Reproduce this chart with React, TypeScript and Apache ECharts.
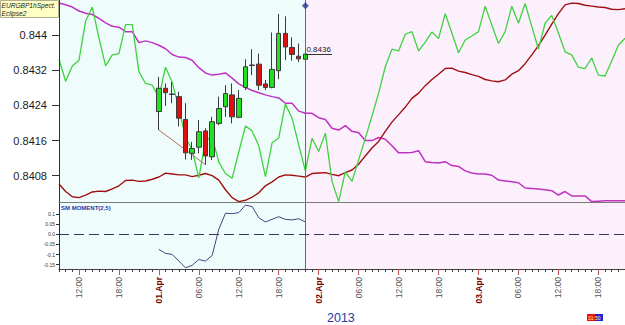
import React, { useEffect, useRef } from 'react';
import * as echarts from 'echarts';

const FONT = '"Liberation Sans", Arial, sans-serif';

// hourly categories: hour offset from 31.Mar 00:00 (9 = 31.Mar 09:00 ... 94 = 03.Apr 22:00)
const hours: number[] = Array.from({ length: 86 }, (_, i) => 9 + i);

const majorLabels: [number, string][] = [
  [12, '12:00'], [18, '18:00'], [24, '01.Apr'], [30, '06:00'], [36, '12:00'], [42, '18:00'],
  [48, '02.Apr'], [54, '06:00'], [60, '12:00'], [66, '18:00'], [72, '03.Apr'], [78, '06:00'],
  [84, '12:00'], [90, '18:00'],
];

const mainTicks = [0.8408, 0.8416, 0.8424, 0.8432, 0.844];
const momTicks = [-0.15, -0.1, -0.05, 0, 0.05, 0.1];

const magenta = [
  0.84473, 0.84469, 0.84464, 0.84455, 0.84450, 0.84447, 0.84438, 0.84428, 0.84420, 0.84418,
  0.84408, 0.84408, 0.84383, 0.84387, 0.84383, 0.84377, 0.84369, 0.84356, 0.84350, 0.84349,
  0.84343, 0.84326, 0.84314, 0.84309, 0.84311, 0.84314, 0.84302, 0.84289, 0.84281, 0.84274,
  0.84269, 0.84264, 0.84260, 0.84257, 0.84245, 0.84245, 0.84227, 0.84222, 0.84222, 0.84212,
  0.84208, 0.84188, 0.84184, 0.84194, 0.84181, 0.84178, 0.84160, 0.84160, 0.84167, 0.84163,
  0.84148, 0.84132, 0.84132, 0.84133, 0.84137, 0.84112, 0.84110, 0.84109, 0.84112, 0.84103,
  0.84101, 0.84091, 0.84086, 0.84084, 0.84084, 0.84081, 0.84070, 0.84068, 0.84066, 0.84064,
  0.84052, 0.84051, 0.84050, 0.84048, 0.84046, 0.84036, 0.84044, 0.84034, 0.84034, 0.84034,
  0.84021, 0.84022, 0.84023, 0.84023, 0.84023, 0.84023,
];

const green = [
  0.84345, 0.84295, 0.84330, 0.84343, 0.84432, 0.84464, 0.84393, 0.84330, 0.84355, 0.84358,
  0.84424, 0.84424, 0.84317, 0.84290, 0.84286, 0.84259, 0.84327, 0.84293, 0.84234, 0.84166,
  0.84139, 0.84075, 0.84161, 0.84168, 0.84111, 0.84085, 0.84074, 0.84134, 0.84193, 0.84182,
  0.84148, 0.84078, 0.84155, 0.84166, 0.84243, 0.84211, 0.84150, 0.84091, 0.84165, 0.84135,
  0.84177, 0.84067, 0.84021, 0.84089, 0.84067, 0.84116, 0.84165, 0.84216, 0.84268, 0.84328,
  0.84368, 0.84364, 0.84402, 0.84408, 0.84364, 0.84384, 0.84407, 0.84392, 0.84449, 0.84405,
  0.84360, 0.84389, 0.84398, 0.84408, 0.84466, 0.84423, 0.84381, 0.84408, 0.84466, 0.84427,
  0.84472, 0.84420, 0.84368, 0.84427, 0.84445, 0.84405, 0.84362, 0.84355, 0.84327, 0.84324,
  0.84348, 0.84309, 0.84307, 0.84341, 0.84377, 0.84393,
];

const darkRed = [
  0.84061, 0.84044, 0.84032, 0.84030, 0.84036, 0.84043, 0.84045, 0.84044, 0.84050, 0.84057,
  0.84069, 0.84070, 0.84067, 0.84068, 0.84072, 0.84077, 0.84086, 0.84084, 0.84082, 0.84082,
  0.84078, 0.84081, 0.84085, 0.84080, 0.84070, 0.84048, 0.84030, 0.84021, 0.84024, 0.84031,
  0.84041, 0.84057, 0.84066, 0.84077, 0.84082, 0.84081, 0.84079, 0.84077, 0.84085, 0.84086,
  0.84087, 0.84083, 0.84080, 0.84087, 0.84093, 0.84106, 0.84125, 0.84143, 0.84158, 0.84181,
  0.84202, 0.84219, 0.84236, 0.84256, 0.84268, 0.84285, 0.84299, 0.84311, 0.84324, 0.84325,
  0.84318, 0.84315, 0.84310, 0.84306, 0.84299, 0.84296, 0.84294, 0.84298, 0.84311, 0.84319,
  0.84335, 0.84355, 0.84376, 0.84400, 0.84425, 0.84449, 0.84469, 0.84473, 0.84472, 0.84468,
  0.84466, 0.84464, 0.84463, 0.84459, 0.84458, 0.84460,
];

// hourly candles 01.Apr 00:00 .. 01.Apr 22:00
const candleHours = [24, 25, 26, 27, 28, 29, 30, 31, 32, 33, 34, 35, 36, 37, 38, 39, 40, 41, 42, 43, 44, 45, 46];
const candleOpen = [0.84226, 0.84279, 0.84266, 0.84260, 0.84208, 0.84131, 0.84145, 0.84182, 0.84123, 0.84199, 0.84237, 0.84264, 0.84213, 0.84281, 0.84332, 0.84334, 0.84289, 0.84281, 0.84319, 0.84404, 0.84372, 0.84352, 0.84345];
const candleClose = [0.84279, 0.84269, 0.84265, 0.84211, 0.84132, 0.84142, 0.84180, 0.84125, 0.84203, 0.84233, 0.84267, 0.84214, 0.84256, 0.84328, 0.84331, 0.84286, 0.84281, 0.84322, 0.84404, 0.84373, 0.84356, 0.84346, 0.84357];
const candleLow = [0.84184, 0.84239, 0.84245, 0.84192, 0.84117, 0.84116, 0.84131, 0.84105, 0.84116, 0.84195, 0.84214, 0.84199, 0.84211, 0.84275, 0.84309, 0.84275, 0.84275, 0.84279, 0.84300, 0.84343, 0.84342, 0.84339, 0.84345];
const candleHigh = [0.84305, 0.84290, 0.84293, 0.84271, 0.84245, 0.84157, 0.84207, 0.84188, 0.84214, 0.84260, 0.84286, 0.84290, 0.84275, 0.84345, 0.84368, 0.84358, 0.84298, 0.84406, 0.84448, 0.84443, 0.84395, 0.84381, 0.84392];

const momentum = [-0.074, -0.094, -0.099, -0.132, -0.165, -0.153, -0.124, -0.132, -0.104, 0.025, 0.104, 0.102, 0.107, 0.144, 0.137, 0.082, 0.061, 0.074, 0.087, 0.074, 0.071, 0.077, 0.061];

const trendLine: [number, number][] = [[24, 0.84184], [31, 0.84105]];
const nowHour = 46;
const lastLineEndHour = 50;
const markerValue = 0.84467;

export default function App() {
  const ref = useRef<HTMLDivElement>(null);
  useEffect(() => {
    if (!ref.current) return;
    const chart = echarts.init(ref.current, null, { renderer: 'svg' });
    const cats = hours.map(String);
    const majorMap = new Map<number, string>(majorLabels);
    const isMajor = (i: number) => majorMap.has(hours[i]);
    const candleMap = new Map<number, number[]>();
    candleHours.forEach((h, i) => candleMap.set(h, [candleOpen[i], candleClose[i], candleLow[i], candleHigh[i]]));
    const candleData = hours.map((h) => candleMap.get(h) ?? '-');
    const lastClose = candleClose[candleClose.length - 1];

    const option: any = {
      animation: false,
      backgroundColor: '#ffffff',
      textStyle: { fontFamily: FONT },
      grid: [
        { left: 59, right: 0, top: 0, bottom: 122.5 },
        { left: 59, right: 0, top: 202.5, bottom: 56 },
      ],
      xAxis: [
        {
          gridIndex: 0, type: 'category', data: cats, boundaryGap: false, z: 6,
          axisLine: { onZero: false, lineStyle: { color: '#7a7a7a', width: 1 } },
          axisTick: { show: false }, axisLabel: { show: false }, splitLine: { show: false },
        },
        {
          gridIndex: 1, type: 'category', data: cats, boundaryGap: false, position: 'bottom', z: 6,
          axisLine: { onZero: false, lineStyle: { color: '#404040', width: 1 } },
          axisTick: { interval: 0, length: 3, lineStyle: { color: '#404040' } },
          axisLabel: { show: false }, splitLine: { show: false },
        },
        {
          gridIndex: 1, type: 'category', data: cats, boundaryGap: false, position: 'bottom', z: 6,
          axisLine: { show: false, onZero: false },
          axisTick: { interval: (i: number) => isMajor(i), length: 6, lineStyle: { color: '#c05050' } },
          axisLabel: {
            interval: (i: number) => isMajor(i), rotate: 90, margin: 8,
            formatter: (v: string) => {
              const lab = majorMap.get(Number(v));
              if (!lab) return '';
              return lab.indexOf('Apr') >= 0 ? `{d|${lab}}` : `{t|${lab}}`;
            },
            rich: {
              d: { color: '#7a0000', fontWeight: 'bold', fontSize: 8.5, fontFamily: FONT },
              t: { color: '#555555', fontSize: 8.5, fontFamily: FONT },
            },
          },
          splitLine: { show: false },
        },
      ],
      yAxis: [
        {
          gridIndex: 0, type: 'value', min: 0.84019, max: 0.8448, scale: true, z: 6,
          axisLine: { show: true, lineStyle: { color: '#303030' } },
          axisTick: { show: true, length: 7, customValues: mainTicks, lineStyle: { color: '#303030' } },
          axisLabel: {
            customValues: mainTicks, margin: 12, fontSize: 11, color: '#1a1a1a', fontFamily: FONT,
            formatter: (v: number) => String(parseFloat(v.toFixed(4))),
          },
          splitLine: { show: false },
        },
        {
          gridIndex: 1, type: 'value', min: -0.171, max: 0.157, z: 6,
          axisLine: { show: true, lineStyle: { color: '#303030' } },
          axisTick: { show: true, length: 3, customValues: momTicks, lineStyle: { color: '#303030' } },
          axisLabel: {
            customValues: momTicks, margin: 4, fontSize: 5, color: '#333333', fontFamily: FONT,
            formatter: (v: number) => (v === 0 ? '0.0' : String(v)),
          },
          splitLine: { show: false },
        },
      ],
      series: [
        {
          type: 'line', xAxisIndex: 0, yAxisIndex: 0, data: [], z: 0, silent: true,
          markArea: {
            silent: true,
            data: [
              [{ xAxis: cats[0], itemStyle: { color: '#effcfc' } }, { xAxis: String(nowHour) }],
              [{ xAxis: String(nowHour), itemStyle: { color: '#fcf0fc' } }, { xAxis: cats[cats.length - 1] }],
            ],
          },
          markLine: {
            silent: true, symbol: ['none', 'none'], label: { show: false },
            lineStyle: { color: '#5a7272', width: 1, type: 'solid' },
            data: [{ xAxis: String(nowHour) }],
          },
        },
        {
          type: 'line', xAxisIndex: 1, yAxisIndex: 1, data: [], z: 0, silent: true,
          markArea: {
            silent: true,
            data: [
              [{ xAxis: cats[0], itemStyle: { color: '#effcfc' } }, { xAxis: String(nowHour) }],
              [{ xAxis: String(nowHour), itemStyle: { color: '#fcf0fc' } }, { xAxis: cats[cats.length - 1] }],
            ],
          },
          markLine: {
            silent: true, symbol: ['none', 'none'], label: { show: false },
            data: [
              { xAxis: String(nowHour), lineStyle: { color: '#5a7272', width: 1, type: 'solid' } },
              { yAxis: 0, lineStyle: { color: '#35355f', width: 1, type: [10, 5] } },
            ],
          },
        },
        {
          name: 'magenta', type: 'line', xAxisIndex: 0, yAxisIndex: 0, data: magenta,
          showSymbol: false, lineStyle: { color: '#c032c0', width: 1.5 }, itemStyle: { color: '#c032c0' },
        },
        {
          name: 'darkred', type: 'line', xAxisIndex: 0, yAxisIndex: 0, data: darkRed,
          showSymbol: false, lineStyle: { color: '#a01010', width: 1.4 }, itemStyle: { color: '#a01010' },
        },
        {
          name: 'green', type: 'line', xAxisIndex: 0, yAxisIndex: 0, data: green,
          showSymbol: false, lineStyle: { color: '#3fd23f', width: 1.3 }, itemStyle: { color: '#3fd23f' },
        },
        {
          name: 'trend', type: 'line', xAxisIndex: 0, yAxisIndex: 0,
          data: trendLine.map(([h, v]) => [String(h), v]),
          showSymbol: false, lineStyle: { color: '#b0705e', width: 1 }, itemStyle: { color: '#b0705e' },
        },
        {
          name: 'candles', type: 'candlestick', xAxisIndex: 0, yAxisIndex: 0, data: candleData,
          barWidth: 5, z: 4,
          itemStyle: {
            color: '#22e022', color0: '#dd1010',
            borderColor: '#3a3a3a', borderColor0: '#3a3a3a', borderWidth: 1,
          },
          markLine: {
            silent: true, symbol: ['none', 'none'],
            lineStyle: { color: '#333333', width: 1, type: 'solid' },
            label: {
              show: true, position: 'insideStartTop', formatter: lastClose.toFixed(4),
              fontSize: 8, color: '#222222', distance: [1, 1], fontFamily: FONT,
            },
            data: [[{ coord: [String(nowHour), lastClose] }, { coord: [String(lastLineEndHour), lastClose] }]],
          },
        },
        {
          name: 'marker', type: 'scatter', xAxisIndex: 0, yAxisIndex: 0,
          data: [[String(nowHour), markerValue]], symbol: 'diamond', symbolSize: 7, z: 5,
          itemStyle: { color: '#2b3590' },
        },
        {
          name: 'SM MOMENT', type: 'line', xAxisIndex: 1, yAxisIndex: 1,
          data: candleHours.map((h, i) => [String(h), momentum[i]]),
          showSymbol: false, lineStyle: { color: '#45457a', width: 1 }, itemStyle: { color: '#45457a' },
        },
      ],
      graphic: [
        {
          type: 'group', left: 0, top: 0, z: 10,
          children: [
            { type: 'rect', shape: { x: 0.5, y: 0.5, width: 58, height: 17 }, style: { fill: '#ffffc4', stroke: '#b0b090', lineWidth: 1 } },
            {
              type: 'text', x: 1.5, y: 1.5,
              style: { text: 'EURGBP1hSpect.\nEclipse2', fontSize: 6.6, fontStyle: 'italic', lineHeight: 8, fill: '#222222', fontFamily: FONT },
            },
          ],
        },
        {
          type: 'text', left: 61, top: 205, z: 10,
          style: { text: 'SM MOMENT(2,5)', fontSize: 6, fontWeight: 'bold', fill: '#33339a', fontFamily: FONT },
        },
        {
          type: 'text', left: 327, top: 311, z: 10,
          style: { text: '2013', fontSize: 12.5, fill: '#1f3aa0', fontFamily: FONT },
        },
        {
          type: 'group', left: 587, top: 314, z: 10,
          children: [
            { type: 'rect', shape: { x: 0, y: 0, width: 8, height: 7 }, style: { fill: '#ee1111' } },
            { type: 'rect', shape: { x: 8, y: 0, width: 8, height: 7 }, style: { fill: '#2222cc' } },
            { type: 'text', x: 1, y: 1, style: { text: '31:50', fontSize: 5, fill: '#ffff80', fontFamily: FONT } },
          ],
        },
      ],
    };
    chart.setOption(option);
    return () => chart.dispose();
  }, []);
  return <div ref={ref} style={{ position: 'absolute', left: 0, top: 0, width: 625, height: 325 }} />;
}
